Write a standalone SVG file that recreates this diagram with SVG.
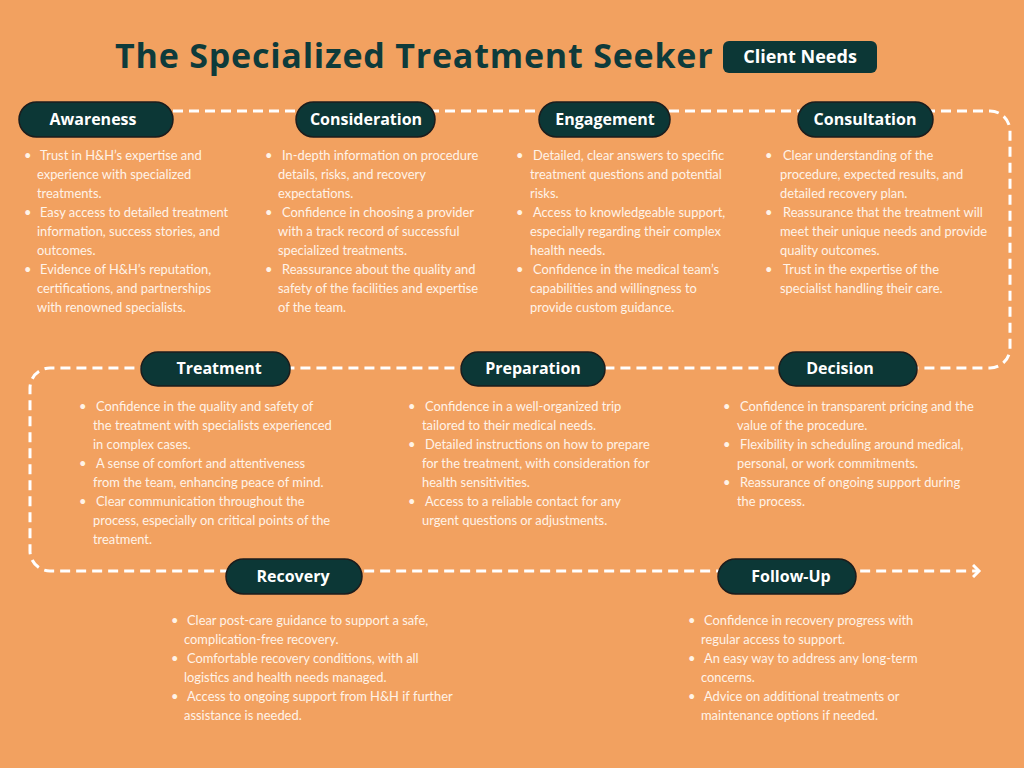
<svg xmlns="http://www.w3.org/2000/svg" width="1024" height="768" viewBox="0 0 1024 768">
<defs>
<style>
.pill{fill:#0C3736;stroke:#1c1c1c;stroke-width:1.5}
.pt{font-family:"Open Sans","Noto Sans",sans-serif;font-weight:700;font-size:16px;fill:#ffffff;text-anchor:middle}
.b{font-family:"Lato","Noto Sans",sans-serif;font-size:12.9px;fill:#FFF3E8}
.dash{fill:none;stroke:#ffffff;stroke-width:3;stroke-dasharray:10 6}
</style>
<marker id="chev" markerWidth="12" markerHeight="14" refX="6" refY="7" orient="auto" markerUnits="userSpaceOnUse">
<polyline points="1,1 7,7 1,13" fill="none" stroke="#ffffff" stroke-width="3"/>
</marker>
</defs>
<rect width="1024" height="768" fill="#F2A160"/>
<g id="title">
<text x="115" y="68" font-family="Open Sans, Noto Sans, sans-serif" font-weight="700" font-size="34" letter-spacing="0.8" fill="#0E3B3B">The Specialized Treatment Seeker</text>
<rect x="723" y="41" width="154" height="32" rx="6" fill="#0C3736"/>
<text x="800" y="63" font-family="Open Sans, Noto Sans, sans-serif" font-weight="700" font-size="18" fill="#ffffff" text-anchor="middle">Client Needs</text>
</g>
<g id="connectors">
<path class="dash" d="M173,111 H990 A20,20 0 0 1 1010,131 V348 A20,20 0 0 1 990,368 H50 A20,20 0 0 0 30,388 V551 A20,20 0 0 0 50,571 H978" marker-end="url(#chev)"/>
</g>
<g id="awareness">
<rect class="pill" x="19" y="102" width="154" height="35" rx="17.5"/>
<text class="pt" x="93" y="125">Awareness</text>
<text class="b"><tspan x="24" y="160">•</tspan><tspan x="40" y="160">Trust in H&amp;H’s expertise and</tspan><tspan x="37" y="179">experience with specialized</tspan><tspan x="37" y="198">treatments.</tspan><tspan x="24" y="217">•</tspan><tspan x="40" y="217">Easy access to detailed treatment</tspan><tspan x="37" y="236">information, success stories, and</tspan><tspan x="37" y="255">outcomes.</tspan><tspan x="24" y="274">•</tspan><tspan x="40" y="274">Evidence of H&amp;H’s reputation,</tspan><tspan x="37" y="293">certifications, and partnerships</tspan><tspan x="37" y="312">with renowned specialists.</tspan></text>
</g>
<g id="consideration">
<rect class="pill" x="296" y="102" width="139" height="35" rx="17.5"/>
<text class="pt" x="366" y="125">Consideration</text>
<text class="b"><tspan x="265" y="160">•</tspan><tspan x="282" y="160">In-depth information on procedure</tspan><tspan x="278" y="179">details, risks, and recovery</tspan><tspan x="278" y="198">expectations.</tspan><tspan x="265" y="217">•</tspan><tspan x="282" y="217">Confidence in choosing a provider</tspan><tspan x="278" y="236">with a track record of successful</tspan><tspan x="278" y="255">specialized treatments.</tspan><tspan x="265" y="274">•</tspan><tspan x="282" y="274">Reassurance about the quality and</tspan><tspan x="278" y="293">safety of the facilities and expertise</tspan><tspan x="278" y="312">of the team.</tspan></text>
</g>
<g id="engagement">
<rect class="pill" x="539" y="102" width="131" height="35" rx="17.5"/>
<text class="pt" x="605" y="125">Engagement</text>
<text class="b"><tspan x="516" y="160">•</tspan><tspan x="533" y="160">Detailed, clear answers to specific</tspan><tspan x="530" y="179">treatment questions and potential</tspan><tspan x="530" y="198">risks.</tspan><tspan x="516" y="217">•</tspan><tspan x="533" y="217">Access to knowledgeable support,</tspan><tspan x="530" y="236">especially regarding their complex</tspan><tspan x="530" y="255">health needs.</tspan><tspan x="516" y="274">•</tspan><tspan x="533" y="274">Confidence in the medical team’s</tspan><tspan x="530" y="293">capabilities and willingness to</tspan><tspan x="530" y="312">provide custom guidance.</tspan></text>
</g>
<g id="consultation">
<rect class="pill" x="798" y="102" width="135" height="35" rx="17.5"/>
<text class="pt" x="865" y="125">Consultation</text>
<text class="b"><tspan x="765" y="160">•</tspan><tspan x="783" y="160">Clear understanding of the</tspan><tspan x="780" y="179">procedure, expected results, and</tspan><tspan x="780" y="198">detailed recovery plan.</tspan><tspan x="765" y="217">•</tspan><tspan x="783" y="217">Reassurance that the treatment will</tspan><tspan x="780" y="236">meet their unique needs and provide</tspan><tspan x="780" y="255">quality outcomes.</tspan><tspan x="765" y="274">•</tspan><tspan x="783" y="274">Trust in the expertise of the</tspan><tspan x="780" y="293">specialist handling their care.</tspan></text>
</g>
<g id="treatment">
<rect class="pill" x="141" y="352" width="149" height="34" rx="17"/>
<text class="pt" x="219" y="374">Treatment</text>
<text class="b"><tspan x="79" y="411">•</tspan><tspan x="96" y="411">Confidence in the quality and safety of</tspan><tspan x="93" y="430">the treatment with specialists experienced</tspan><tspan x="93" y="449">in complex cases.</tspan><tspan x="79" y="468">•</tspan><tspan x="96" y="468">A sense of comfort and attentiveness</tspan><tspan x="93" y="487">from the team, enhancing peace of mind.</tspan><tspan x="79" y="506">•</tspan><tspan x="96" y="506">Clear communication throughout the</tspan><tspan x="93" y="525">process, especially on critical points of the</tspan><tspan x="93" y="544">treatment.</tspan></text>
</g>
<g id="preparation">
<rect class="pill" x="461" y="352" width="144" height="34" rx="17"/>
<text class="pt" x="533" y="374">Preparation</text>
<text class="b"><tspan x="408" y="411">•</tspan><tspan x="425" y="411">Confidence in a well-organized trip</tspan><tspan x="422" y="430">tailored to their medical needs.</tspan><tspan x="408" y="449">•</tspan><tspan x="425" y="449">Detailed instructions on how to prepare</tspan><tspan x="422" y="468">for the treatment, with consideration for</tspan><tspan x="422" y="487">health sensitivities.</tspan><tspan x="408" y="506">•</tspan><tspan x="425" y="506">Access to a reliable contact for any</tspan><tspan x="422" y="525">urgent questions or adjustments.</tspan></text>
</g>
<g id="decision">
<rect class="pill" x="779" y="352" width="138" height="34" rx="17"/>
<text class="pt" x="840" y="374">Decision</text>
<text class="b"><tspan x="723" y="411">•</tspan><tspan x="740" y="411">Confidence in transparent pricing and the</tspan><tspan x="737" y="430">value of the procedure.</tspan><tspan x="723" y="449">•</tspan><tspan x="740" y="449">Flexibility in scheduling around medical,</tspan><tspan x="737" y="468">personal, or work commitments.</tspan><tspan x="723" y="487">•</tspan><tspan x="740" y="487">Reassurance of ongoing support during</tspan><tspan x="737" y="506">the process.</tspan></text>
</g>
<g id="recovery">
<rect class="pill" x="226" y="559" width="136" height="35" rx="17.5"/>
<text class="pt" x="293" y="582">Recovery</text>
<text class="b"><tspan x="171" y="625">•</tspan><tspan x="187" y="625">Clear post-care guidance to support a safe,</tspan><tspan x="184" y="644">complication-free recovery.</tspan><tspan x="171" y="663">•</tspan><tspan x="187" y="663">Comfortable recovery conditions, with all</tspan><tspan x="184" y="682">logistics and health needs managed.</tspan><tspan x="171" y="701">•</tspan><tspan x="187" y="701">Access to ongoing support from H&amp;H if further</tspan><tspan x="184" y="720">assistance is needed.</tspan></text>
</g>
<g id="followup">
<rect class="pill" x="718" y="559" width="138" height="35" rx="17.5"/>
<text class="pt" x="791" y="582">Follow-Up</text>
<text class="b"><tspan x="688" y="625">•</tspan><tspan x="704" y="625">Confidence in recovery progress with</tspan><tspan x="701" y="644">regular access to support.</tspan><tspan x="688" y="663">•</tspan><tspan x="704" y="663">An easy way to address any long-term</tspan><tspan x="701" y="682">concerns.</tspan><tspan x="688" y="701">•</tspan><tspan x="704" y="701">Advice on additional treatments or</tspan><tspan x="701" y="720">maintenance options if needed.</tspan></text>
</g>
</svg>
